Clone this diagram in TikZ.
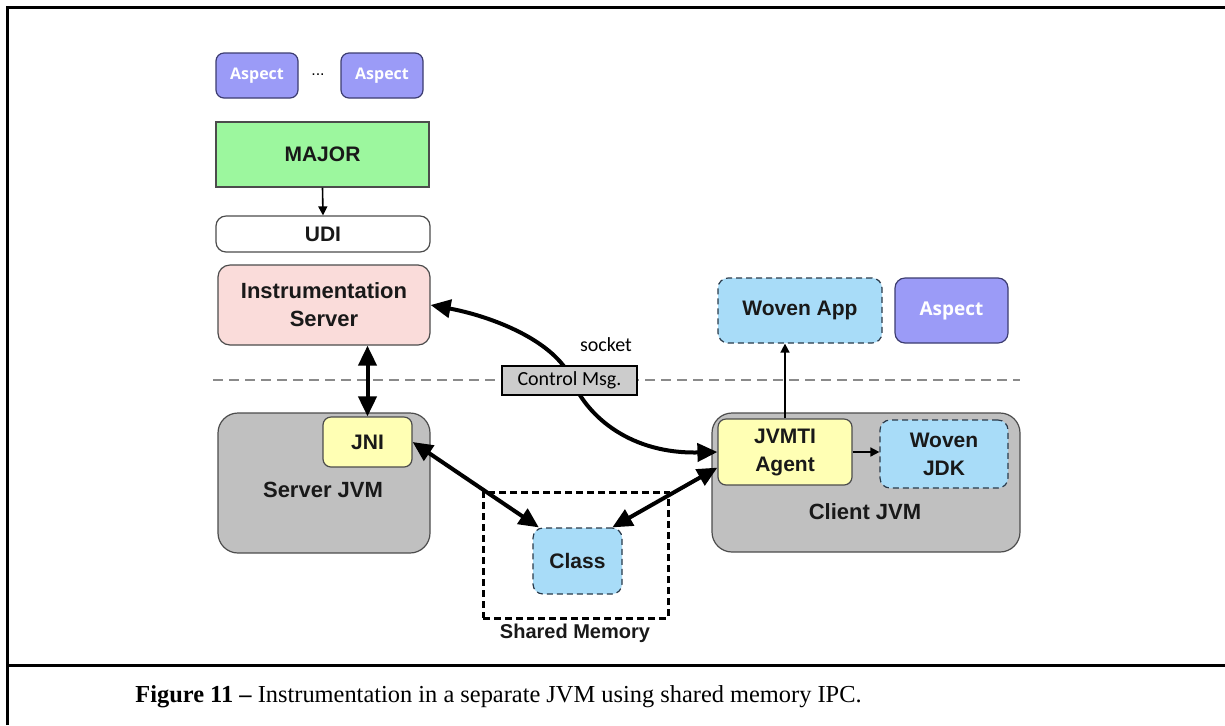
\documentclass[tikz,border=0pt]{standalone}
\usepackage{fontspec}
\setmainfont{Liberation Serif}
\setsansfont{Liberation Sans}
\newfontfamily\calfont{Carlito}
\newfontfamily\aspfont{Open Sans}
\usetikzlibrary{arrows.meta}

\definecolor{aspfill}{HTML}{9B9BF7}
\definecolor{aspline}{HTML}{3C3C70}
\definecolor{majfill}{HTML}{9CF79E}
\definecolor{srvfill}{HTML}{FADCDA}
\definecolor{jvmfill}{HTML}{C0C0C0}
\definecolor{agtfill}{HTML}{FFFFB4}
\definecolor{wovfill}{HTML}{A8DCF8}
\definecolor{wovline}{HTML}{2A3A4A}
\definecolor{msgfill}{HTML}{CCCCCC}
\definecolor{sepline}{HTML}{8A8A8A}

\tikzset{
  lbl/.style={font=\sffamily\bfseries\fontsize{10.5}{14}\selectfont, align=center, text=black!90},
  box/.style={lbl, draw=black!70, line width=0.6pt, inner sep=0pt},
  aspectbox/.style={box, draw=aspline, fill=aspfill, rounded corners=4pt, text=white,
    font=\aspfont\bfseries\fontsize{8}{10}\selectfont},
  jvmbox/.style={box, fill=jvmfill, rounded corners=10pt},
  agentbox/.style={box, fill=agtfill, rounded corners=4pt},
  wovenbox/.style={box, draw=wovline, fill=wovfill, rounded corners=5pt, dash pattern=on 3pt off 2pt},
  bigarrow/.style={line width=2pt, {Triangle[length=10pt,width=9pt]}-{Triangle[length=10pt,width=9pt]}},
  thinarrow/.style={line width=0.8pt, -{Triangle[length=4.5pt,width=4.5pt]}},
}

\begin{document}
\begin{tikzpicture}[x=0.5pt, y=-0.5pt]
\useasboundingbox (0,0) rectangle (1225,725);

% figure frame and caption rule
\draw[line width=1.5pt] (7,725) -- (7,7) -- (1225,7);
\draw[line width=1.5pt] (7,665) -- (1225,665);

% separator between the two machines
\draw[sepline, line width=0.8pt, dash pattern=on 5pt off 3pt] (213,380) -- (1020,380);

% server side stack
\node[aspectbox, minimum width=41pt, minimum height=22.5pt] (asp1) at (257,75.5) {Aspect};
\node[font=\sffamily\fontsize{8}{10}\selectfont] (dots) at (318,75) {...};
\node[aspectbox, minimum width=41pt, minimum height=22.5pt] (asp2) at (382,75.5) {Aspect};
\node[box, fill=majfill, minimum width=106.5pt, minimum height=32.5pt] (major) at (322.5,154.5) {MAJOR};
\node[box, fill=white, rounded corners=5pt, minimum width=107pt, minimum height=18pt] (udi) at (323,234) {UDI};
\node[box, fill=srvfill, rounded corners=6pt, minimum width=106pt, minimum height=40pt,
      font=\sffamily\bfseries\fontsize{11}{14}\selectfont] (inst) at (324,305) {Instrumentation\\Server};

\node[jvmbox, minimum width=106pt, minimum height=70pt] (sjvm) at (324,483) {};
\node[agentbox, minimum width=44.5pt, minimum height=25pt] (jni) at (367.5,442) {JNI};
\node[lbl, font=\sffamily\bfseries\fontsize{11}{14}\selectfont] (sjvmlbl) at (323,490) {Server JVM};

% shared memory segment
\node[draw=black, line width=1.5pt, dash pattern=on 3.5pt off 2pt, minimum width=92.5pt, minimum height=63pt] (shm) at (575.5,555) {};
\node[wovenbox, minimum width=44.5pt, minimum height=33pt] (cls) at (577.5,561) {Class};
\node[lbl, font=\sffamily\bfseries\fontsize{10}{12}\selectfont] (shmlbl) at (575,633) {Shared Memory};

% client side
\node[jvmbox, minimum width=154pt, minimum height=69.5pt] (cjvm) at (866,482.5) {};
\node[agentbox, minimum width=67pt, minimum height=33pt] (jvmti) at (785,452) {JVMTI\\Agent};
\node[wovenbox, minimum width=64pt, minimum height=34pt] (wjdk) at (944,454) {Woven\\JDK};
\node[lbl, font=\sffamily\bfseries\fontsize{11}{14}\selectfont] (cjvmlbl) at (865,512) {Client JVM};
\node[wovenbox, minimum width=82pt, minimum height=32.5pt] (wapp) at (800,310.5) {Woven App};
\node[aspectbox, minimum width=56.5pt, minimum height=32.5pt, rounded corners=5pt,
      font=\aspfont\bfseries\fontsize{9.5}{12}\selectfont] (asp3) at (951.5,310.5) {Aspect};

% socket connection, passing under the control message box
\coordinate (mid) at (572,380);
\draw[bigarrow] (inst.east) .. controls (490,316) and (555,340) .. (mid)
                            .. controls (588,418) and (632,454) .. (jvmti.west);
\node[draw=black, line width=1.2pt, fill=msgfill, minimum width=67.5pt, minimum height=14.5pt, inner sep=0pt,
      font=\calfont\fontsize{10}{12}\selectfont] (ctrl) at (569.5,380.5) {Control Msg.};
\node[font=\calfont\fontsize{10}{12}\selectfont] (socket) at (606,345) {socket};

% connectors
\draw[thinarrow] (major.south) -- (udi.north);
\draw[bigarrow] (inst.south -| jni.north) -- (jni.north);
\draw[bigarrow] (jni.east) -- (cls.139);
\draw[bigarrow] (cls.44) -- (jvmti.193);
\draw[thinarrow] (jvmti.north) -- (jvmti.north |- wapp.south);
\draw[thinarrow] (jvmti.east) -- (jvmti.east -| wjdk.west);

% caption
\node[font=\fontsize{12.2}{14}\selectfont] (caption) at (498.5,697)
  {\textbf{Figure 11 –} Instrumentation in a separate JVM using shared memory IPC.};
\end{tikzpicture}
\end{document}
